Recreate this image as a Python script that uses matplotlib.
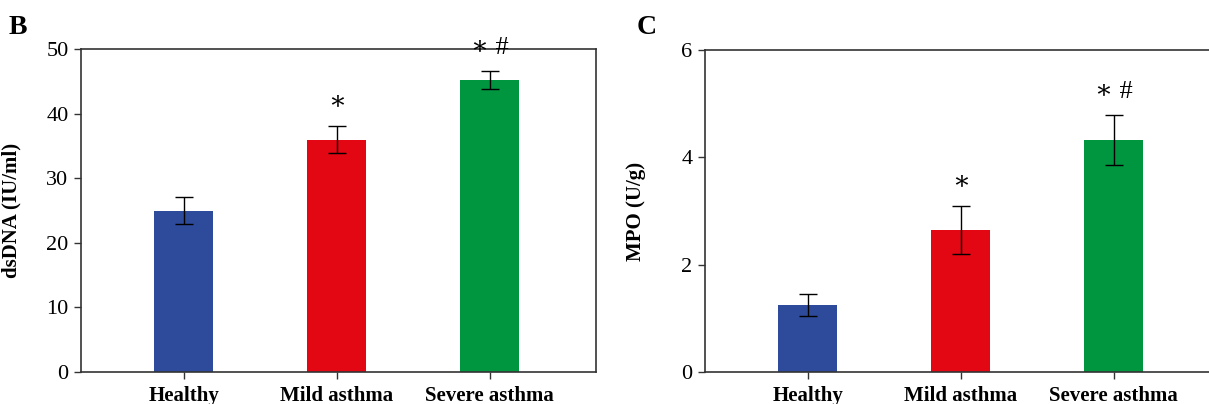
import matplotlib
matplotlib.use("Agg")
import matplotlib.pyplot as plt

categories = ["Healthy", "Mild asthma", "Severe asthma"]
dsdna_mean = [25.0, 36.0, 45.2]
dsdna_err = [2.1, 2.1, 1.4]
mpo_mean = [1.25, 2.65, 4.32]
mpo_err = [0.20, 0.45, 0.46]
annotations = ["", "∗", "∗ #"]
colors = ["#2E4B9B", "#E30613", "#00953F"]

W, H = 1209, 404
fig = plt.figure(figsize=(W / 100, H / 100), dpi=100)

serif = ["Liberation Serif", "DejaVu Serif"]
plt.rcParams["font.family"] = serif


def add_px_axes(left, top, right, bottom):
    return fig.add_axes([left / W, (H - bottom) / H, (right - left) / W, (bottom - top) / H])


def draw(ax, means, errs, ylim, yticks, ylabel):
    x = list(range(len(categories)))
    ax.bar(x, means, width=0.385, color=colors, zorder=2)
    ax.errorbar(x, means, yerr=errs, fmt="none", ecolor="black", elinewidth=1.0,
                capsize=6.5, capthick=1.0, zorder=3)
    ax.set_xlim(-0.673, 2.695)
    ax.set_ylim(*ylim)
    ax.set_yticks(yticks)
    ax.set_xticks(x)
    ax.set_xticklabels(categories, fontsize=15, fontweight="bold")
    ax.tick_params(axis="y", direction="out", length=5, width=1.0, pad=4, labelsize=16,
                   colors="#333333", labelcolor="black")
    ax.tick_params(axis="x", direction="out", length=5, width=1.0, pad=5, colors="#333333",
                   labelcolor="black")
    for s in ax.spines.values():
        s.set_linewidth(1.2)
        s.set_color("#333333")
    ax.set_ylabel(ylabel, fontsize=15, fontweight="bold")
    ax.yaxis.set_label_coords(-0.115, 0.5)
    for i, (m, e, a) in enumerate(zip(means, errs, annotations)):
        if a:
            ax.annotate(a, xy=(i, m + e), xytext=(0, 17), textcoords="offset points",
                        ha="center", va="center", fontsize=19, clip_on=False,
                        annotation_clip=False)


axB = add_px_axes(81, 49.3, 596, 372)
draw(axB, dsdna_mean, dsdna_err, (0, 50), [0, 10, 20, 30, 40, 50], "dsDNA (IU/ml)")

axC = add_px_axes(705, 50, 1220, 372)
draw(axC, mpo_mean, mpo_err, (0, 6), [0, 2, 4, 6], "MPO (U/g)")

fig.text(18 / W, 1 - 28 / H, "B", fontsize=20, fontweight="bold", ha="center", va="center")
fig.text(647 / W, 1 - 28 / H, "C", fontsize=20, fontweight="bold", ha="center", va="center")

fig.savefig("out.png", dpi=100)
